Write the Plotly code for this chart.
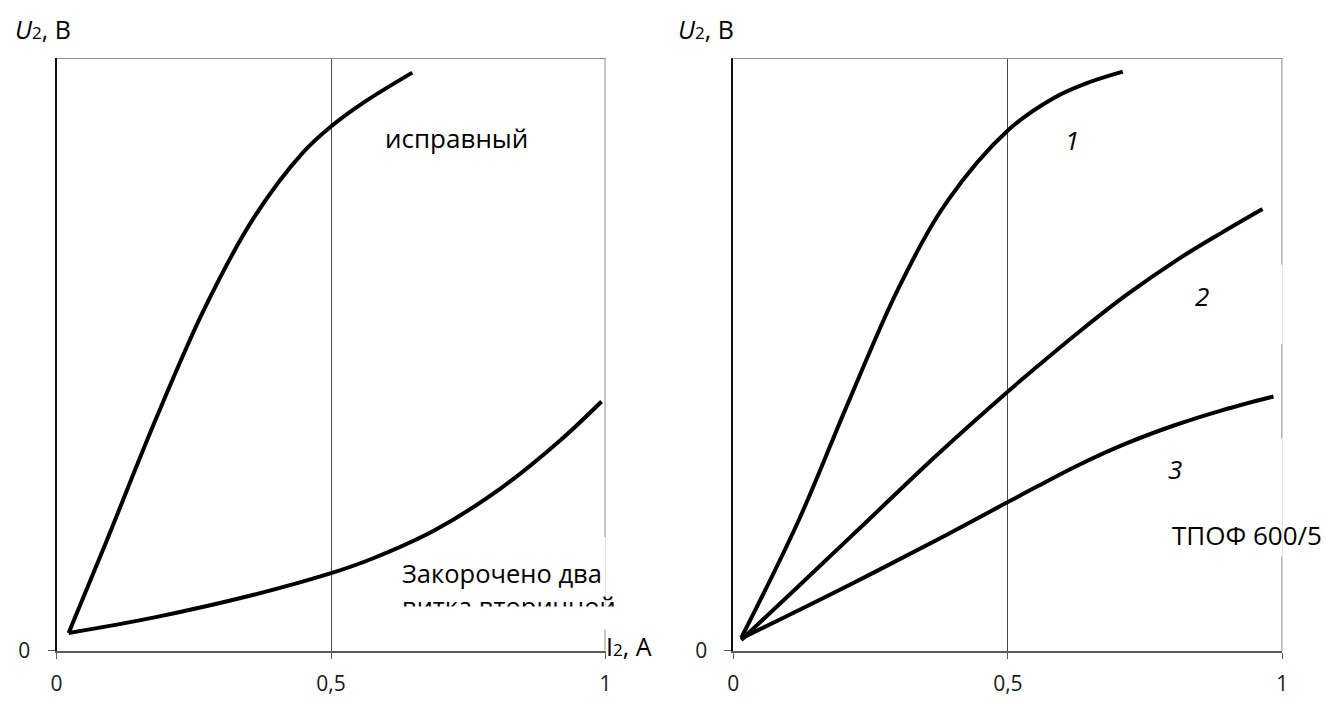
import plotly.graph_objects as go

# ---------------- data (relative units) ----------------
x_ticks = [0, 0.5, 1]
x_ticklabels = ["0", "0,5", "1"]
y_ticks = [0]
y_ticklabels = ["0"]

# left panel
left_ok_x = [0.022, 0.0884, 0.1787, 0.2690, 0.3592, 0.4495, 0.5018, 0.5578, 0.6480]
left_ok_y = [0.030, 0.1788, 0.3858, 0.5762, 0.7301, 0.8411, 0.8858, 0.9238, 0.9752]
left_short_x = [0.022, 0.1787, 0.3592, 0.5000, 0.5758, 0.6895, 0.8105, 0.9188, 0.9928]
left_short_y = [0.030, 0.0563, 0.0944, 0.1308, 0.1556, 0.2036, 0.2748, 0.3560, 0.4205]

# right panel
c1_x = [0.0144, 0.1191, 0.2094, 0.2996, 0.3899, 0.5018, 0.5830, 0.6426, 0.7094]
c1_y = [0.0215, 0.2202, 0.4189, 0.6093, 0.7583, 0.8791, 0.9321, 0.9570, 0.9768]
c2_x = [0.0144, 0.1191, 0.2455, 0.3718, 0.5018, 0.5523, 0.6300, 0.7148, 0.8105, 0.8899, 0.9639]
c2_y = [0.0182, 0.1093, 0.2202, 0.3311, 0.4387, 0.4785, 0.5381, 0.5993, 0.6606, 0.7053, 0.7450]
c3_x = [0.0144, 0.2094, 0.3899, 0.5018, 0.5523, 0.6245, 0.7148, 0.8051, 0.8899, 0.9838]
c3_y = [0.0207, 0.1101, 0.1962, 0.2517, 0.2765, 0.3113, 0.3493, 0.3808, 0.4056, 0.4288]

W, H = 1326, 704
FONT = "Open Sans"


def px(x):
    return x / W


def py(y):
    return 1 - y / H


fig = go.Figure()
line_style = dict(color="black", width=4, shape="spline", smoothing=1.0)
for xs, ys, xa, ya in [
    (left_ok_x, left_ok_y, "x", "y"),
    (left_short_x, left_short_y, "x", "y"),
    (c1_x, c1_y, "x2", "y2"),
    (c2_x, c2_y, "x2", "y2"),
    (c3_x, c3_y, "x2", "y2"),
]:
    fig.add_trace(go.Scatter(x=xs, y=ys, mode="lines", line=line_style,
                             xaxis=xa, yaxis=ya, hoverinfo="skip", showlegend=False))

ydom = [py(663), py(59)]
xaxis_common = dict(
    range=[0, 1], tickmode="array", tickvals=x_ticks, ticktext=x_ticklabels,
    showgrid=True, gridcolor="#4a4a4a", gridwidth=1, zeroline=False,
    showline=True, linecolor="#5a5a5a", linewidth=2,
    ticks="outside", ticklen=6, tickwidth=1, tickcolor="#5a5a5a",
    tickfont=dict(family=FONT, size=21, color="#1a1a1a"), ticklabelstandoff=7,
    fixedrange=True,
)
yaxis_common = dict(
    range=[0, 1], tickmode="array", tickvals=y_ticks, ticktext=y_ticklabels,
    showgrid=False, zeroline=False, showline=True, linecolor="#111111", linewidth=2,
    ticks="outside", ticklen=7, tickwidth=1, tickcolor="#5a5a5a",
    tickfont=dict(family=FONT, size=21, color="#1a1a1a"), ticklabelstandoff=13,
    domain=ydom, fixedrange=True,
)

fig.update_layout(
    width=W, height=H, margin=dict(l=0, r=0, t=0, b=0),
    paper_bgcolor="white", plot_bgcolor="white",
    xaxis=dict(domain=[px(51), px(605)], anchor="y", **xaxis_common),
    yaxis=dict(anchor="x", **yaxis_common),
    xaxis2=dict(domain=[px(734), px(1288)], anchor="y2", **xaxis_common),
    yaxis2=dict(anchor="x2", **yaxis_common),
)

shapes = []
for xr, yr, gaps in [("x", "y", [(0.0596, 0.192)]),
                     ("x2", "y2", [(0.518, 0.651), (0.159, 0.358)])]:
    border = dict(type="line", xref=xr, yref=yr, layer="between",
                  line=dict(color="#8c8c8c", width=2))
    shapes.append(dict(border, x0=0, x1=1, y0=1, y1=1))
    shapes.append(dict(border, x0=1, x1=1, y0=0, y1=1))
    for g0, g1 in gaps:
        shapes.append(dict(type="rect", xref=xr, yref=yr, layer="between",
                           x0=0.98, x1=1.03, y0=g0, y1=g1,
                           fillcolor="white", line=dict(width=0)))
fig.update_layout(shapes=shapes)

txt = dict(family=FONT, size=26, color="black")
ann = []


def A(text, x, y, xa="center", ya="middle", font=txt, **kw):
    ann.append(dict(text=text, x=px(x), y=py(y), xref="paper", yref="paper",
                    xanchor=xa, yanchor=ya, showarrow=False, font=font, **kw))


lab = dict(family=FONT, size=25, color="black")
sub2 = "<span style='font-size:17px'>2</span>"
A("<i>U</i>" + sub2 + ", В", 7, 30, xa="left", font=lab)
A("<i>U</i>" + sub2 + ", В", 676, 30, xa="left", font=lab)
A("I" + sub2 + ", А", 603, 658, xa="left", font=lab)

A("исправный", 455, 141)
A("Закорочено два<br>витка вторичной", 398, 564, xa="left", ya="top", align="left",
  font=dict(family=FONT, size=25.5, color="black"))
# white strip clipping the second line of the text box
ann.append(dict(text=" ", x=px(396), y=py(617), xref="paper", yref="paper",
                xanchor="left", yanchor="top", showarrow=False, bgcolor="white",
                width=216, height=22, borderpad=0, font=dict(size=4)))

A("<i>1</i>", 1076, 143)
A("<i>2</i>", 1207, 302)
A("<i>3</i>", 1180, 478)
A("ТПОФ 600/5", 1175, 545, xa="left")

fig.update_layout(annotations=ann)
fig.write_html(
    "out.html",
    config={"displayModeBar": False, "staticPlot": True},
    post_script="document.body.style.margin='0';document.body.style.overflow='hidden';",
)
